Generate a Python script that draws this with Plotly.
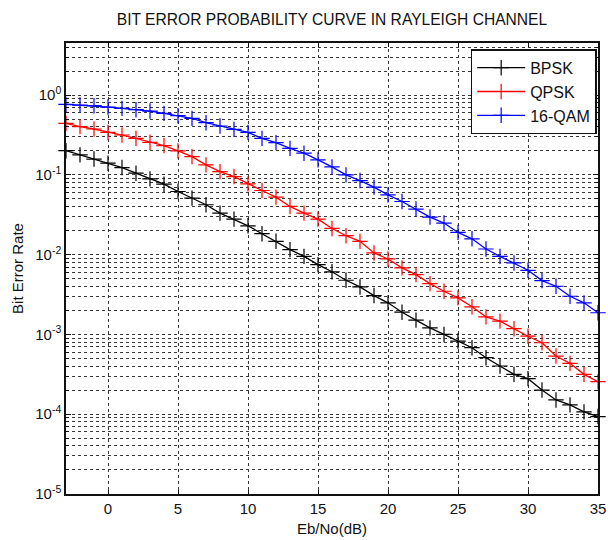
import plotly.graph_objects as go

# ---- data ----
ebno = [-3, -2, -1, 0, 1, 2, 3, 4, 5, 6, 7, 8, 9, 10, 11, 12, 13, 14, 15, 16,
        17, 18, 19, 20, 21, 22, 23, 24, 25, 26, 27, 28, 29, 30, 31, 32, 33, 34, 35]

ber_bpsk = [0.201, 0.178, 0.158, 0.140, 0.1236, 0.105, 0.0891, 0.0764, 0.0619, 0.0511,
            0.0422, 0.0332, 0.0279, 0.0230, 0.0183, 0.0147, 0.01155, 0.00953, 0.0075, 0.0061,
            0.00478, 0.00394, 0.00307, 0.00249, 0.0019, 0.00151, 0.00121, 0.00100, 0.000826, 0.000682,
            0.000511, 0.000402, 0.000316, 0.000279, 0.000201, 0.000151, 0.000131, 0.000107, 0.0000935]

ber_qpsk = [0.443, 0.402, 0.376, 0.341, 0.316, 0.287, 0.256, 0.233, 0.1995, 0.1695,
            0.1334, 0.110, 0.0953, 0.0772, 0.0637, 0.0526, 0.0402, 0.0332, 0.0279, 0.0213,
            0.01728, 0.01468, 0.0105, 0.00883, 0.00682, 0.00562, 0.00434, 0.00348, 0.00287, 0.00222,
            0.00166, 0.00147, 0.00118, 0.00095, 0.000787, 0.000536, 0.000434, 0.000316, 0.000256]

ber_16qam = [0.764, 0.750, 0.736, 0.708, 0.681, 0.656, 0.631, 0.590, 0.552, 0.511,
             0.451, 0.410, 0.372, 0.341, 0.287, 0.254, 0.215, 0.187, 0.154, 0.126,
             0.100, 0.0849, 0.0702, 0.0562, 0.0464, 0.0373, 0.0296, 0.0249, 0.0190, 0.0158,
             0.01178, 0.00953, 0.00787, 0.00637, 0.00473, 0.00402, 0.00301, 0.00249, 0.00187]

series_names = ["BPSK", "QPSK", "16-QAM"]
series_colors = ["#000000", "#ff0000", "#0000ff"]

x_tick_vals = [0, 5, 10, 15, 20, 25, 30, 35]
y_tick_vals = [1e-5, 1e-4, 1e-3, 1e-2, 1e-1, 1]
y_tick_text = ["10<sup>-5</sup>", "10<sup>-4</sup>", "10<sup>-3</sup>",
               "10<sup>-2</sup>", "10<sup>-1</sup>", "10<sup>0</sup>"]

title_text = "BIT ERROR PROBABILITY CURVE IN RAYLEIGH CHANNEL"
x_title = "Eb/No(dB)"
y_title = "Bit Error Rate"

# minor (2..9 per decade) grid values
minor_vals = [k * 10.0 ** d for d in range(-5, 1) for k in range(2, 10) if k * 10.0 ** d < 4.6]

FONT = "Liberation Sans, Arial, Helvetica, sans-serif"
GRID = "#383838"

fig = go.Figure()
for name, yv, col in zip(series_names, [ber_bpsk, ber_qpsk, ber_16qam], series_colors):
    fig.add_trace(go.Scatter(
        x=ebno, y=yv, mode="lines+markers", name=name,
        line=dict(color=col, width=1.3),
        marker=dict(symbol="cross-thin", size=11, color=col, line=dict(color=col, width=1.2)),
        cliponaxis=False,
    ))

fig.update_layout(
    width=608, height=540,
    margin=dict(l=66, r=10, t=43, b=46),
    paper_bgcolor="white", plot_bgcolor="white",
    font=dict(family=FONT, size=15, color="#111111"),
    title=dict(text=title_text, x=0.5, xref="paper", xanchor="center",
               y=1 - 20 / 540, yref="container", yanchor="middle",
               font=dict(family=FONT, size=15.6, color="#111111")),
    showlegend=True,
    legend=dict(x=0.9975, y=0.986, xanchor="right", yanchor="top",
                bgcolor="white", bordercolor="#111111", borderwidth=1.5,
                font=dict(family=FONT, size=16, color="#111111"),
                tracegroupgap=0, itemwidth=48),
    xaxis=dict(
        range=[-3, 35], tickmode="array", tickvals=x_tick_vals,
        ticks="inside", ticklen=4, tickcolor="#111111", tickwidth=1,
        showline=True, linecolor="#111111", linewidth=1.5, mirror="ticks",
        showgrid=True, gridcolor=GRID, gridwidth=1, griddash="dot",
        zeroline=False, tickfont=dict(size=15), automargin=False,
        title=dict(text=x_title, font=dict(size=15), standoff=8),
    ),
    yaxis=dict(
        type="log", range=[-5, 0.653], tickmode="array",
        tickvals=y_tick_vals, ticktext=y_tick_text,
        ticks="inside", ticklen=5, tickcolor="#111111", tickwidth=1,
        showline=True, linecolor="#111111", linewidth=1.5, mirror="ticks",
        showgrid=True, gridcolor=GRID, gridwidth=1, griddash="dot",
        zeroline=False, tickfont=dict(size=15), automargin=False,
        minor=dict(tickmode="array", tickvals=minor_vals, ticks="inside", ticklen=3,
                   tickcolor="#111111", showgrid=True, gridcolor=GRID, gridwidth=1,
                   griddash="dot"),
        title=dict(text=y_title, font=dict(size=15), standoff=8),
    ),
)

fig.write_html("out.html")
